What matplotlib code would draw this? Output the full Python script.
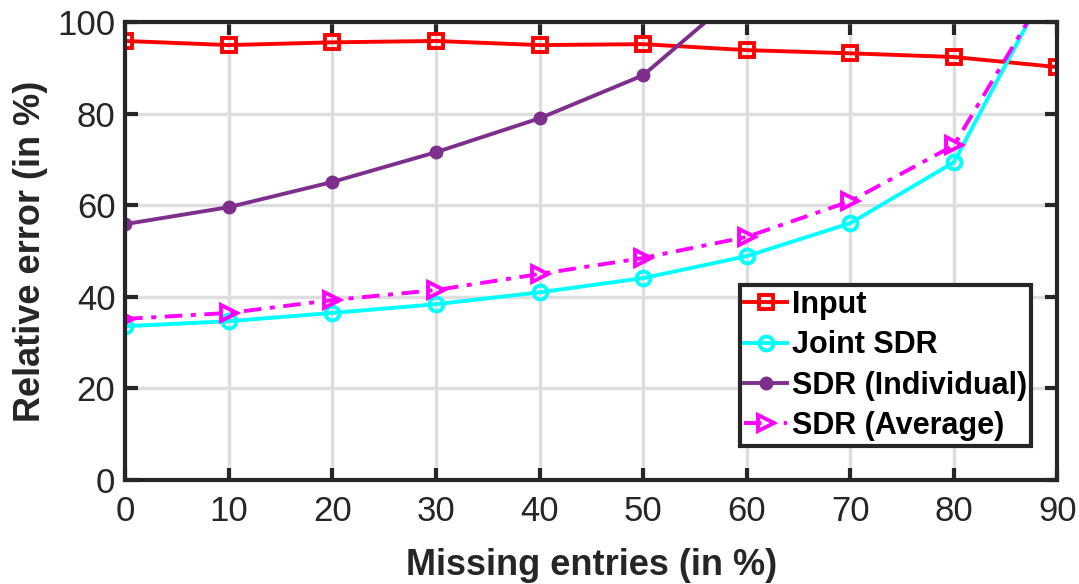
import numpy as np
import matplotlib.pyplot as plt

plt.rcParams['font.family'] = ['Liberation Sans', 'DejaVu Sans']

missing = [0, 10, 20, 30, 40, 50, 60, 70, 80, 90]
err_input = [95.9, 95.0, 95.6, 95.9, 95.0, 95.2, 93.9, 93.2, 92.4, 90.2]
err_joint = [33.6, 34.7, 36.5, 38.4, 41.0, 44.1, 48.9, 56.1, 69.4, 112.0]
err_indiv = [55.9, 59.6, 65.1, 71.6, 79.0, 88.4, 107.7, 130.0, 160.0, 200.0]
err_avg = [35.2, 36.5, 39.3, 41.5, 45.0, 48.5, 53.1, 60.9, 73.1, 111.0]

fig = plt.figure(figsize=(10.79, 5.84), dpi=100)
ax = fig.add_axes([0.116, 0.178, 0.864, 0.784])

lw = 2.8
ax.plot(missing, err_input, color='#ff0000', lw=lw, marker='s', ms=10,
        mfc='none', mew=2.8, label='Input')
ax.plot(missing, err_joint, color='#00ffff', lw=lw, marker='o', ms=10,
        mfc='none', mew=2.8, label='Joint SDR')
ax.plot(missing, err_indiv, color='#7e2f8e', lw=lw, marker='o', ms=9,
        mfc='#7e2f8e', mew=1, label='SDR (Individual)')
ax.plot(missing, err_avg, color='#ff00ff', lw=lw, ls='-.', marker='>', ms=12,
        mfc='none', mew=2.8, label='SDR (Average)', dashes=(4.5, 2.2, 1.3, 2.2))

ax.set_xlim(0, 90)
ax.set_ylim(0, 100)
ax.set_xticks(missing)
ax.set_yticks([0, 20, 40, 60, 80, 100])
ax.grid(True, color='#dedede', lw=2.5)
ax.set_axisbelow(True)
for s in ax.spines.values():
    s.set_linewidth(3)
    s.set_color('#262626')
ax.tick_params(direction='in', length=9, width=3, color='#262626',
               labelsize=25, labelcolor='#262626', top=True, right=True)
ax.tick_params(axis='x', pad=11)
ax.tick_params(axis='y', pad=7)
ax.set_xlabel('Missing entries (in %)', fontsize=26, fontweight='bold', color='#262626', labelpad=14)
ax.set_ylabel('Relative error (in %)', fontsize=26, fontweight='bold', color='#262626', labelpad=7)

leg = ax.legend(loc='lower right', bbox_to_anchor=(0.972, 0.075),
                prop={'weight': 'bold', 'size': 22}, frameon=True, fancybox=False,
                handlelength=1.4, handletextpad=0.15, borderpad=0.15, labelspacing=0.34,
                borderaxespad=0)
leg.get_frame().set_edgecolor('#262626')
leg.get_frame().set_linewidth(3)
leg.get_frame().set_alpha(1)

fig.savefig('out.png', dpi=100)
